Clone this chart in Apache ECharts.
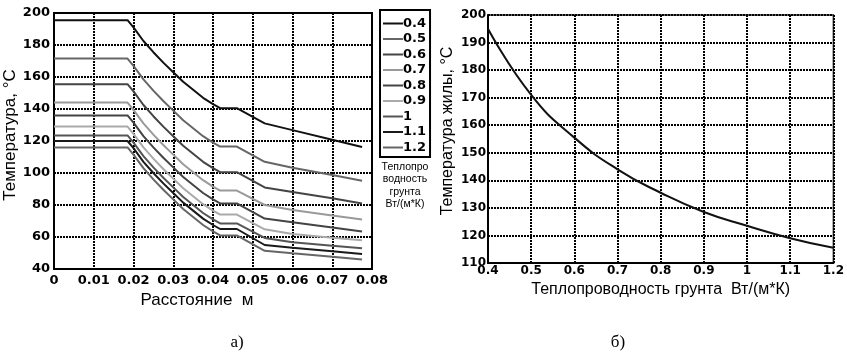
<!DOCTYPE html>
<html><head><meta charset="utf-8">
<script src="https://cdn.jsdelivr.net/npm/echarts@6/dist/echarts.min.js"></script>
<style>html,body{margin:0;padding:0;background:#fff}#c{width:847px;height:353px}</style>
</head><body><div id="c"></div>
<script>
// Left chart: temperature vs distance for different soil conductivities
const distX = [0, 0.0185, 0.02, 0.0225, 0.025, 0.0275, 0.03, 0.0325, 0.035, 0.0375, 0.04, 0.0418, 0.046, 0.053, 0.06, 0.07, 0.0775];
const seriesNames = ['0.4','0.5','0.6','0.7','0.8','0.9','1','1.1','1.2'];
const t04 = [195.5,195.5,191,182.5,175.5,169,163,157,152,147,143,140.5,140.5,131,126.8,120.8,116.3];
const t05 = [171.5,171.5,167,158.5,151.5,145,139,133,128,123,119,116.5,116.5,107,103.3,98.8,95.2];
const t06 = [155.5,155.5,151,142.5,135.5,129,123,117,112,107,103,100.5,100.5,91,88.1,84.2,81];
const t07 = [144,144,139.5,131,124,117.5,111.5,105.5,100.5,95.5,91.5,89,89,80,76.9,73.5,71];
const t08 = [136,136,131.5,123,116,109.5,103.5,97.5,92.5,87.5,83.5,81,81,71.5,69.2,66,63.4];
const t09 = [129,129,124.5,116,109,102.5,96.5,90.5,85.5,80.5,76.5,74,74,64.8,61.9,59.6,57.9];
const t10 = [123.5,123.5,119,110.5,103.5,97,91,85,80,75,71,68.5,68.5,59.4,56.7,54.6,52.9];
const t11 = [120,120,115.5,107,100,93.5,87.5,81.5,76.5,71.5,67.5,65,65,55,53.3,51.1,49.4];
const t12 = [116,116,111.5,103,96,89.5,83.5,77.5,72.5,67.5,63.5,61,61,51.4,49.8,47.7,46];
// Right chart: core temperature vs soil conductivity
const lambdaX = [0.4,0.5,0.6,0.7,0.8,0.9,1.0,1.1,1.2];
const coreT = [195,171,155.5,144,135.5,128.5,123.5,119,115.5];

const leftData = [t04,t05,t06,t07,t08,t09,t10,t11,t12];
const colors = ['#111','#666','#444','#9a9a9a','#444','#aaa','#555','#1a1a1a','#666'];

const chart = echarts.init(document.getElementById('c'));
const gridLine = {show:true, lineStyle:{color:'#000', width:2, type:[2,1]}};
const tickFont = {color:'#000', fontFamily:'DejaVu Sans', fontWeight:'bold', fontSize:13};
const fmt = v => String(+(+v).toFixed(3));

const series = leftData.map((arr,i)=>({
  name: seriesNames[i], type:'line', xAxisIndex:0, yAxisIndex:0, symbol:'none',
  lineStyle:{color:colors[i], width:2}, itemStyle:{color:colors[i]},
  data: distX.map((x,j)=>[x, arr[j]])
}));
series.push({
  type:'line', xAxisIndex:1, yAxisIndex:1, symbol:'none', smooth:true,
  lineStyle:{color:'#111', width:2},
  data: lambdaX.map((x,j)=>[x, coreT[j]])
});

chart.setOption({
  animation:false,
  grid:[
    {left:54, right:475, top:13, bottom:84, show:true, borderColor:'#000', borderWidth:2},
    {left:488, right:12, top:15, bottom:90, show:true, borderColor:'#333', borderWidth:1.5}
  ],
  xAxis:[
    {type:'value', gridIndex:0, min:0, max:0.08, interval:0.01,
     axisLine:{show:true, lineStyle:{color:'#000', width:2}}, axisTick:{show:false},
     axisLabel:Object.assign({margin:5, formatter:fmt}, tickFont), splitLine:gridLine,
     name:'Расстояние  м', nameLocation:'middle', nameGap:15,
     nameTextStyle:{color:'#000', fontFamily:'Liberation Sans', fontSize:17, padding:[0,32,0,0]}},
    {type:'value', gridIndex:1, min:0.4, max:1.2, interval:0.1,
     axisLine:{show:true, lineStyle:{color:'#000', width:2}}, axisTick:{show:false},
     axisLabel:Object.assign({margin:2, formatter:fmt}, tickFont, {fontSize:12}), splitLine:gridLine,
     name:'Теплопроводность грунта  Вт/(м*К)', nameLocation:'middle', nameGap:13,
     nameTextStyle:{color:'#000', fontFamily:'Liberation Sans', fontSize:16}}
  ],
  yAxis:[
    {type:'value', gridIndex:0, min:40, max:200, interval:20,
     axisLine:{show:true, lineStyle:{color:'#000', width:2}}, axisTick:{show:false},
     axisLabel:Object.assign({margin:4}, tickFont), splitLine:gridLine,
     name:'Температура, °C', nameLocation:'middle', nameGap:27,
     nameTextStyle:{color:'#000', fontFamily:'Liberation Sans', fontSize:17, padding:[0,0,0,12]}},
    {type:'value', gridIndex:1, min:110, max:200, interval:10,
     axisLine:{show:true, lineStyle:{color:'#000', width:2}}, axisTick:{show:false},
     axisLabel:Object.assign({margin:2}, tickFont, {fontSize:12}), splitLine:gridLine,
     name:'Температура жилы, °C', nameLocation:'middle', nameGap:32,
     nameTextStyle:{color:'#000', fontFamily:'Liberation Sans', fontSize:16, padding:[0,0,0,16]}}
  ],
  legend:{
    orient:'vertical', left:380, top:10, data:seriesNames, icon:'rect',
    itemWidth:20, itemHeight:2, itemGap:0.5, padding:[6,4,2,3],
    borderColor:'#000', borderWidth:2,
    textStyle:{color:'#000', fontFamily:'DejaVu Sans', fontWeight:'bold', fontSize:13, lineHeight:15, padding:[0,0,0,-5]}
  },
  graphic:[
    {type:'text', x:405, y:161, style:{text:'Теплопро\nводность\nгрунта\nВт/(м*К)', fill:'#000',
      font:'10.5px "Liberation Sans"', align:'center', lineHeight:12.3}},
    {type:'text', x:237, y:343, style:{text:'а)', fill:'#000', font:'17px "Liberation Serif"', align:'center', verticalAlign:'middle'}},
    {type:'text', x:618, y:343, style:{text:'б)', fill:'#000', font:'17px "Liberation Serif"', align:'center', verticalAlign:'middle'}}
  ],
  series
});
</script></body></html>
